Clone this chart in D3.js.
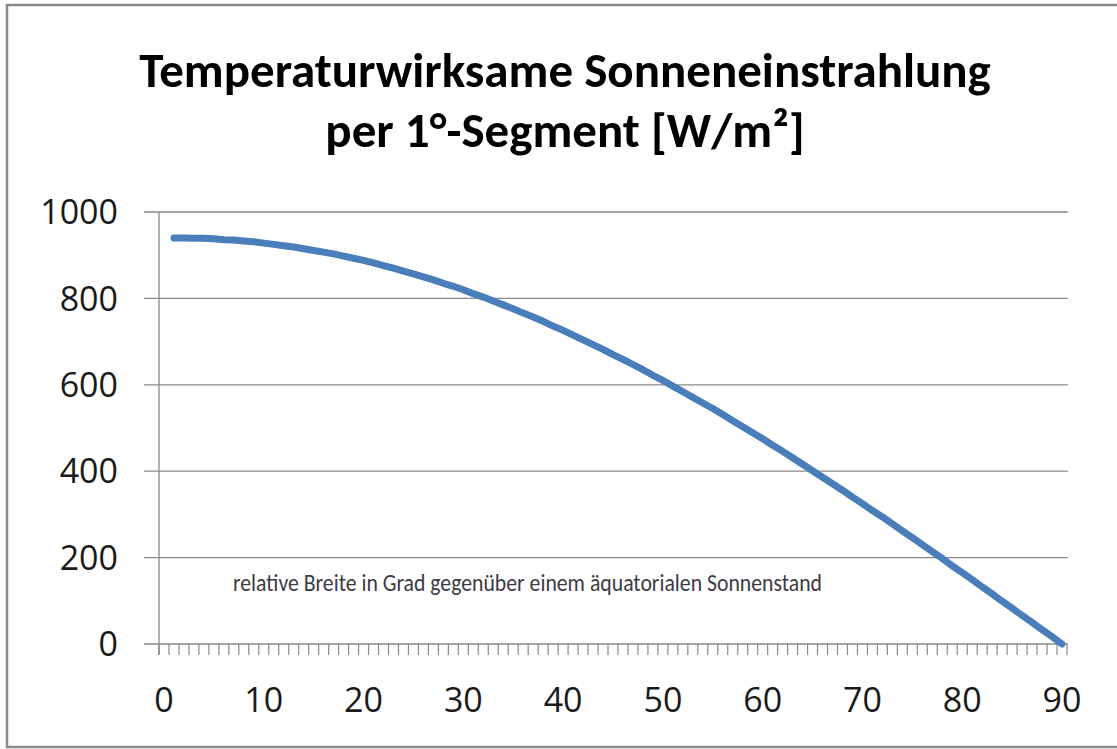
<!DOCTYPE html>
<html>
<head>
    <meta charset="utf-8">
    <title>Temperaturwirksame Sonneneinstrahlung</title>
    <script src="https://cdn.jsdelivr.net/npm/d3@7"></script>
    <style>
        body { margin: 0; background: #fff; }
        text { font-family: Carlito, Lato, "Open Sans", sans-serif; }
        .tick-label { font-family: "Open Sans", Lato, sans-serif; }
    </style>
</head>
<body>
    <div id="chart"></div>
    <script>
        // Kategorien 0..90 (Grad), Werte ab 1°
        const categories = d3.range(0, 91);
        const degrees = d3.range(1, 91);
        const values = [
            940, 940, 939, 939, 938, 936, 935, 933, 931, 928,
            925, 922, 919, 915, 911, 907, 903, 898, 893, 888,
            882, 876, 870, 863, 857, 850, 843, 835, 828, 820,
            811, 803, 794, 785, 776, 766, 757, 747, 736, 726,
            715, 704, 693, 682, 670, 659, 647, 635, 622, 610,
            597, 584, 571, 558, 545, 531, 517, 503, 489, 475,
            460, 446, 431, 416, 401, 386, 371, 356, 340, 325,
            309, 294, 278, 262, 246, 230, 214, 198, 181, 165,
            149, 132, 116, 99, 83, 66, 50, 33, 17, 0
        ];
        const xTickLabels = [0, 10, 20, 30, 40, 50, 60, 70, 80, 90];
        const yTickLabels = [0, 200, 400, 600, 800, 1000];
        const titleLines = ["Temperaturwirksame Sonneneinstrahlung", "per 1°-Segment [W/m²]"];
        const note = "relative Breite in Grad gegenüber einem äquatorialen Sonnenstand";

        const width = 1117, height = 749;
        const m = { left: 159, right: 1067, top: 212, bottom: 644 };
        const gridColor = "#898989";

        const svg = d3.select("#chart").append("svg")
            .attr("width", width)
            .attr("height", height);

        // Rahmen
        svg.append("rect")
            .attr("x", 7).attr("y", 5)
            .attr("width", 1200).attr("height", 742)
            .attr("fill", "none")
            .attr("stroke", "#8a8a8a")
            .attr("stroke-width", 2.5);

        const x = d3.scaleBand().domain(categories).range([m.left, m.right]).paddingInner(0).paddingOuter(0);
        const y = d3.scaleLinear().domain([0, 1000]).range([m.bottom, m.top]);
        const cx = d => x(d) + x.bandwidth() / 2;

        // Gitternetz
        svg.append("g").selectAll("line")
            .data(yTickLabels)
            .join("line")
            .attr("x1", m.left - 15).attr("x2", m.right + 1)
            .attr("y1", d => y(d)).attr("y2", d => y(d))
            .attr("stroke", gridColor)
            .attr("stroke-width", 1.3);

        // Y-Achse
        svg.append("line")
            .attr("x1", m.left).attr("x2", m.left)
            .attr("y1", m.top).attr("y2", m.bottom + 11)
            .attr("stroke", gridColor).attr("stroke-width", 1.3);

        svg.append("g").selectAll("text")
            .data(yTickLabels)
            .join("text")
            .attr("class", "tick-label")
            .attr("x", 118)
            .attr("y", d => y(d))
            .attr("dy", "0.36em")
            .attr("text-anchor", "end")
            .attr("font-size", 34)
            .attr("fill", "#1a1a1a")
            .text(d => d);

        // X-Achse Striche
        const tickPos = categories.map(d => x(d)).concat([m.right]);
        svg.append("g").selectAll("line")
            .data(tickPos)
            .join("line")
            .attr("x1", d => d).attr("x2", d => d)
            .attr("y1", m.bottom).attr("y2", m.bottom + 11)
            .attr("stroke", gridColor)
            .attr("stroke-width", 1.2);

        svg.append("g").selectAll("text")
            .data(xTickLabels)
            .join("text")
            .attr("class", "tick-label")
            .attr("x", d => cx(d))
            .attr("y", 712)
            .attr("text-anchor", "middle")
            .attr("font-size", 34)
            .attr("fill", "#1a1a1a")
            .text(d => d);

        // Linie
        const line = d3.line()
            .x((d, i) => cx(degrees[i]))
            .y(d => y(d));

        svg.append("path")
            .datum(values)
            .attr("d", line)
            .attr("fill", "none")
            .attr("stroke", "#4a7ebb")
            .attr("stroke-width", 7)
            .attr("stroke-linecap", "round")
            .attr("stroke-linejoin", "round");

        // Titel
        svg.append("g").selectAll("text")
            .data(titleLines)
            .join("text")
            .attr("x", 565)
            .attr("y", (d, i) => 87 + i * 60)
            .attr("text-anchor", "middle")
            .attr("font-size", 49)
            .attr("font-weight", "bold")
            .attr("fill", "#000")
            .text(d => d);

        // Hinweis
        svg.append("text")
            .attr("x", 233)
            .attr("y", 591)
            .attr("font-size", 24)
            .attr("fill", "#3d3a45")
            .attr("textLength", 589)
            .attr("lengthAdjust", "spacingAndGlyphs")
            .text(note);
    </script>
</body>
</html>
